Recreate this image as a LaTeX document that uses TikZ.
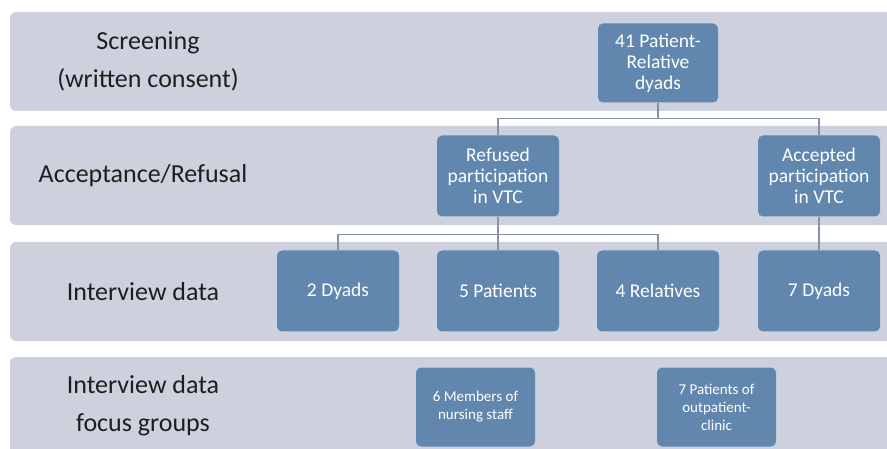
\documentclass[tikz,border=0pt]{standalone}
\usepackage{fontspec}
\setmainfont{Carlito}
\usetikzlibrary{positioning}

\definecolor{bandgray}{HTML}{CDD1DD}
\definecolor{boxblue}{HTML}{6287AE}
\definecolor{linegray}{HTML}{8593A8}
\definecolor{labelink}{HTML}{1E1E1E}

\begin{document}
\begin{tikzpicture}[x=1pt,y=-1pt]
   \tikzstyle{band}=[fill=bandgray, rounded corners=6pt]
   \tikzstyle{stage}=[text=labelink, font=\fontsize{26}{38}\selectfont, align=center]
   \tikzstyle{box}=[fill=boxblue, rounded corners=5pt, text=white, minimum width=122pt, minimum height=81pt, align=center, font=\fontsize{19.5}{21}\selectfont, inner sep=1pt]
   \tikzstyle{small box}=[box, minimum width=119pt, minimum height=79pt, font=\fontsize{15}{18}\selectfont]
   \tikzstyle{conn}=[draw=linegray, line width=1.1pt]

\useasboundingbox (0,0) rectangle (887,449);
\clip (0,0) rectangle (887,449);

% background bands
\fill[band] (10,12) rectangle (905,111);
\fill[band] (10,126) rectangle (905,225);
\fill[band] (10,242) rectangle (905,341);
\fill[band] (10,357) rectangle (905,470);

% stage labels
\node[stage] (screening) at (148,61) {Screening\\(written consent)};
\node[stage] (acceptance) at (143,176) {Acceptance/Refusal};
\node[stage] (interview) at (143,292) {Interview data};
\node[stage] (focus) at (143,406) {Interview data\\focus groups};

% boxes
\node[box, minimum width=120pt, minimum height=79pt] (dyads41) at (658,63) {41 Patient-\\Relative\\dyads};
\node[box] (refused) at (498,176) {Refused\\participation\\in VTC};
\node[box] (accepted) at (819,176) {Accepted\\participation\\in VTC};
\node[box] (dyads2) at (338,291) {2 Dyads};
\node[box] (patients5) at (498,291) {5 Patients};
\node[box] (relatives4) at (658,291) {4 Relatives};
\node[box] (dyads7) at (819,291) {7 Dyads};
\node[small box] (nursing) at (475.5,407) {6 Members of\\nursing staff};
\node[small box] (outpatient) at (716.5,407) {7 Patients of\\outpatient-\\clinic};

% connectors
\draw[conn] (dyads41.south) -- +(0,16) -| (refused.north);
\draw[conn] (dyads41.south) -- +(0,16) -| (accepted.north);
\draw[conn] (refused.south) -- +(0,18) -| (dyads2.north);
\draw[conn] (refused.south) -- (patients5.north);
\draw[conn] (refused.south) -- +(0,18) -| (relatives4.north);
\draw[conn] (accepted.south) -- (dyads7.north);

\end{tikzpicture}
\end{document}
